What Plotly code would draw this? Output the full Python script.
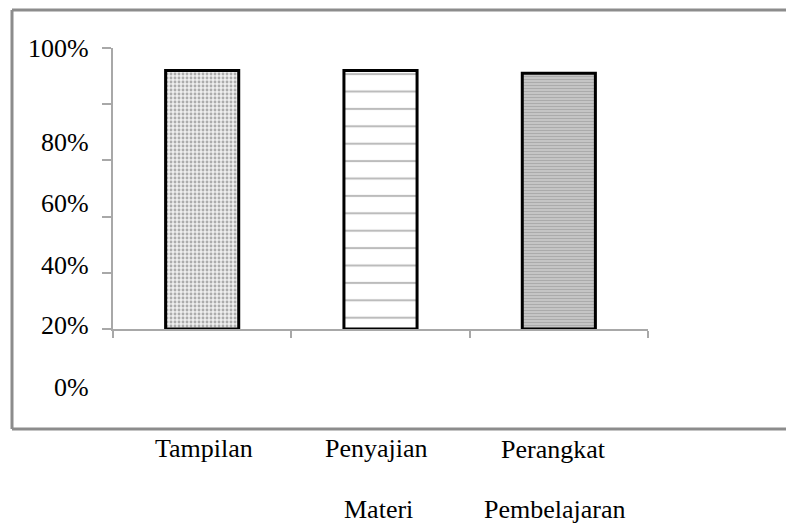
import plotly.graph_objects as go

# ---- data ----
categories = ["Tampilan", "Penyajian Materi", "Perangkat Pembelajaran"]
values = [92, 92, 91]
ytick_vals = [0, 20, 40, 60, 80, 100]
ytick_labels = ["0%", "20%", "40%", "60%", "80%", "100%"]

# ---- layout geometry (page pixels) ----
OFF = 8                      # default body margin of the html page
PW, PH = 794, 523            # page size
W, H = PW - OFF, PH - OFF    # figure size
L, R, T, B = 113, 648, 48, 329  # plot area in page pixels


def px(x):
    return (x - L) / (R - L)


def py(y):
    return (B - y) / (B - T)


FONT = "Liberation Serif"
FS = 26
fig = go.Figure()

patterns = [
    dict(shape=".", fgcolor="#6a6a6a", bgcolor="#eeeeee", size=4, solidity=0.4),
    dict(shape="-", fgcolor="#7a7a7a", bgcolor="#ffffff", size=17.4, solidity=0.12),
    dict(shape="-", fgcolor="#8e8e8e", bgcolor="#c8c8c8", size=3, solidity=0.4),
]

for c, v, p in zip(categories, values, patterns):
    fig.add_trace(go.Bar(
        x=[c], y=[v], width=0.41,
        marker=dict(color="#ffffff", pattern=p,
                    line=dict(color="black", width=3)),
        showlegend=False,
    ))

fig.update_layout(
    width=W, height=H,
    margin=dict(l=L - OFF, r=PW - R, t=T - OFF, b=PH - B, pad=0),
    paper_bgcolor="white", plot_bgcolor="white",
    barmode="overlay",
    font=dict(family=FONT, size=FS, color="black"),
    xaxis=dict(
        type="category", categoryorder="array", categoryarray=categories,
        range=[-0.5, 2.5], showline=True, linecolor="#a8a8a8", linewidth=2,
        ticks="outside", tickson="boundaries", ticklen=7, tickcolor="#a8a8a8",
        tickwidth=2, showticklabels=False, showgrid=False, zeroline=False,
    ),
    yaxis=dict(
        range=[0, 100], tickvals=ytick_vals, showline=True, linecolor="#a8a8a8",
        linewidth=2, ticks="outside", ticklen=9, tickcolor="#a8a8a8",
        tickwidth=2, showticklabels=False, showgrid=False, zeroline=False,
    ),
)

# outer frame (top, left, bottom lines)
frame = dict(color="#8c8c8c", width=3)
fig.add_shape(type="line", xref="paper", yref="paper",
              x0=px(12), x1=px(PW + 5), y0=py(10), y1=py(10), line=frame)
fig.add_shape(type="line", xref="paper", yref="paper",
              x0=px(12), x1=px(12), y0=py(10), y1=py(429), line=frame)
fig.add_shape(type="line", xref="paper", yref="paper",
              x0=px(12), x1=px(PW + 5), y0=py(429), y1=py(429), line=frame)

# y tick labels (as drawn in the reference, offset from ticks)
ylabel_px = {"100%": 48, "80%": 142, "60%": 203, "40%": 265, "20%": 325, "0%": 387}
for lab in ytick_labels:
    fig.add_annotation(x=px(91), y=py(ylabel_px[lab]), xref="paper", yref="paper",
                       text=lab, showarrow=False, xanchor="right", yanchor="middle",
                       font=dict(family=FONT, size=FS, color="black"))

# category labels, split into lines
cat_lines_px = [
    [("Tampilan", 204, 448)],
    [("Penyajian", 376, 448), ("Materi", 378, 509)],
    [("Perangkat", 553, 449), ("Pembelajaran", 555, 509)],
]
for lines in cat_lines_px:
    for txt, x, y in lines:
        fig.add_annotation(x=px(x), y=py(y), xref="paper", yref="paper",
                           text=txt, showarrow=False, xanchor="center",
                           yanchor="middle",
                           font=dict(family=FONT, size=FS, color="black"))

fig.write_html("out.html")
